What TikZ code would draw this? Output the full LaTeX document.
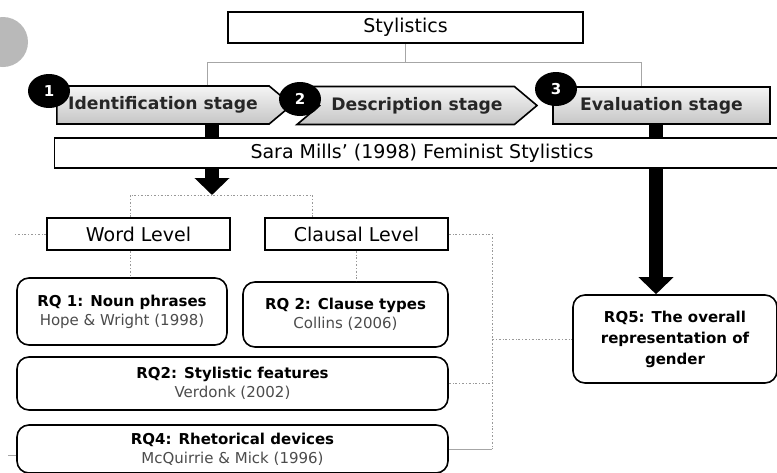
\documentclass[tikz,border=0pt]{standalone}
\usepackage{fontspec}
\setmainfont{DejaVu Sans}
\usetikzlibrary{positioning,shapes.symbols,shapes.geometric,arrows.meta,calc}

\newcommand{\srcline}[1]{{\mdseries\fontsize{15}{19}\selectfont\color{black!70}#1}}

\tikzset{
  plainbox/.style={draw, line width=1.6pt, fill=white, inner sep=0pt,
    font=\fontsize{19}{21}\selectfont},
  stagebox/.style={draw, line width=1.6pt, top color=gray!8, bottom color=gray!45,
    inner sep=0pt, text=black!85, font=\bfseries\fontsize{17.2}{19}\selectfont},
  rqbox/.style={draw, line width=1.6pt, rounded corners=12pt, fill=white,
    inner sep=0pt, align=center, font=\bfseries\fontsize{15}{19}\selectfont},
  numdot/.style={ellipse, fill=black, text=white, inner sep=0pt,
    minimum width=42pt, minimum height=34pt,
    font=\bfseries\fontsize{15}{15}\selectfont},
  treeline/.style={draw=gray!70, line width=1pt},
  dotline/.style={draw=gray!80, line width=0.8pt, dash pattern=on 2pt off 2pt on 0.6pt off 2pt},
  bigarrow/.style={line width=14pt, -{Triangle[width=34pt,length=17pt]}},
}

\begin{document}
\begin{tikzpicture}[x=1pt,y=-1pt]
  \clip (0,0) rectangle (777,472);
  \fill[white] (0,0) rectangle (777,472);

  % cropped mark at the left edge
  \fill[gray!55] (3,42) circle (25pt);

  % top level
  \node[plainbox, minimum width=355pt, minimum height=31pt] (styl) at (405.5,27.5) {Stylistics};

  % stages
  \node[stagebox, signal, signal to=east, signal pointer angle=80,
        minimum width=235pt, minimum height=38pt] (ident) at (163,105) {Identification stage};
  \node[stagebox, signal, signal from=west, signal to=east, signal pointer angle=80,
        minimum width=240pt, minimum height=38pt] (desc) at (417,105.5) {Description stage};
  \node[stagebox, minimum width=217pt, minimum height=37pt] (eval) at (661.5,105.5) {Evaluation stage};

  \node[numdot] (n1) at (49,91) {1};
  \node[numdot] (n2) at (300,99) {2};
  \node[numdot] (n3) at (556,89) {3};

  \coordinate (forkL) at (207,62);
  \coordinate (forkR) at (641,62);
  \draw[treeline] (styl.south) -- (styl.south |- forkL);
  \draw[treeline] (ident.north -| forkL) |- (forkR) -- (forkR |- eval.north);

  % thick arrows (behind the framework bar)
  \coordinate (split) at (212,195);
  \draw[bigarrow] (ident.south -| split) -- (split);

  \node[rqbox, minimum width=204pt, minimum height=88pt, font=\bfseries\fontsize{15}{21}\selectfont] (rq5) at (675,339)
    {RQ5: The overall\\representation of\\gender};
  \draw[bigarrow] ([xshift=-5.5pt]eval.south) -- ([xshift=-5.5pt]eval.south |- rq5.north);

  \node[plainbox, minimum width=735pt, minimum height=30pt] (mills) at (422,153)
    {Sara Mills’ (1998) Feminist Stylistics};

  % levels
  \node[plainbox, minimum width=183pt, minimum height=32pt] (word) at (138.5,234) {Word Level};
  \node[plainbox, minimum width=183pt, minimum height=32pt] (clausal) at (356.5,234) {Clausal Level};

  % research questions
  \node[rqbox, minimum width=210pt, minimum height=67pt] (rq1) at (122,311.5)
    {RQ 1: Noun phrases\\\srcline{Hope \& Wright (1998)}};
  \node[rqbox, minimum width=205pt, minimum height=65pt] (rq2c) at (345.5,314.5)
    {RQ 2: Clause types\\\srcline{Collins (2006)}};
  \node[rqbox, minimum width=431pt, minimum height=53pt] (rq2s) at (232.5,383.5)
    {RQ2: Stylistic features\\\srcline{Verdonk (2002)}};
  \node[rqbox, minimum width=431pt, minimum height=48pt] (rq4) at (232.5,449)
    {RQ4: Rhetorical devices\\\srcline{McQuirrie \& Mick (1996)}};

  % dotted links
  \coordinate (rail) at (492,0);
  \draw[dotline] ([xshift=-8.5pt]word.north) |- (split) -| ([xshift=-44.5pt]clausal.north);
  \draw[dotline] ([xshift=-8.5pt]word.south) -- ([xshift=-8.5pt]word.south |- rq1.north);
  \draw[dotline] (clausal.south) -- (clausal.south |- rq2c.north);
  \draw[dotline] (word.west) -- ++(-32,0);
  \draw[dotline] (clausal.east) -- (clausal.east -| rail) -- (rq4.east -| rail);
  \draw[treeline] (rq4.east -| rail) -- (rq4.east);
  \draw[dotline] (rq2s.east) -- (rq2s.east -| rail);
  \draw[dotline] (rq5.west -| rail) -- (rq5.west);
  \draw[treeline] (rq4.west |- 0,455) -- ++(-8,0);
\end{tikzpicture}
\end{document}
